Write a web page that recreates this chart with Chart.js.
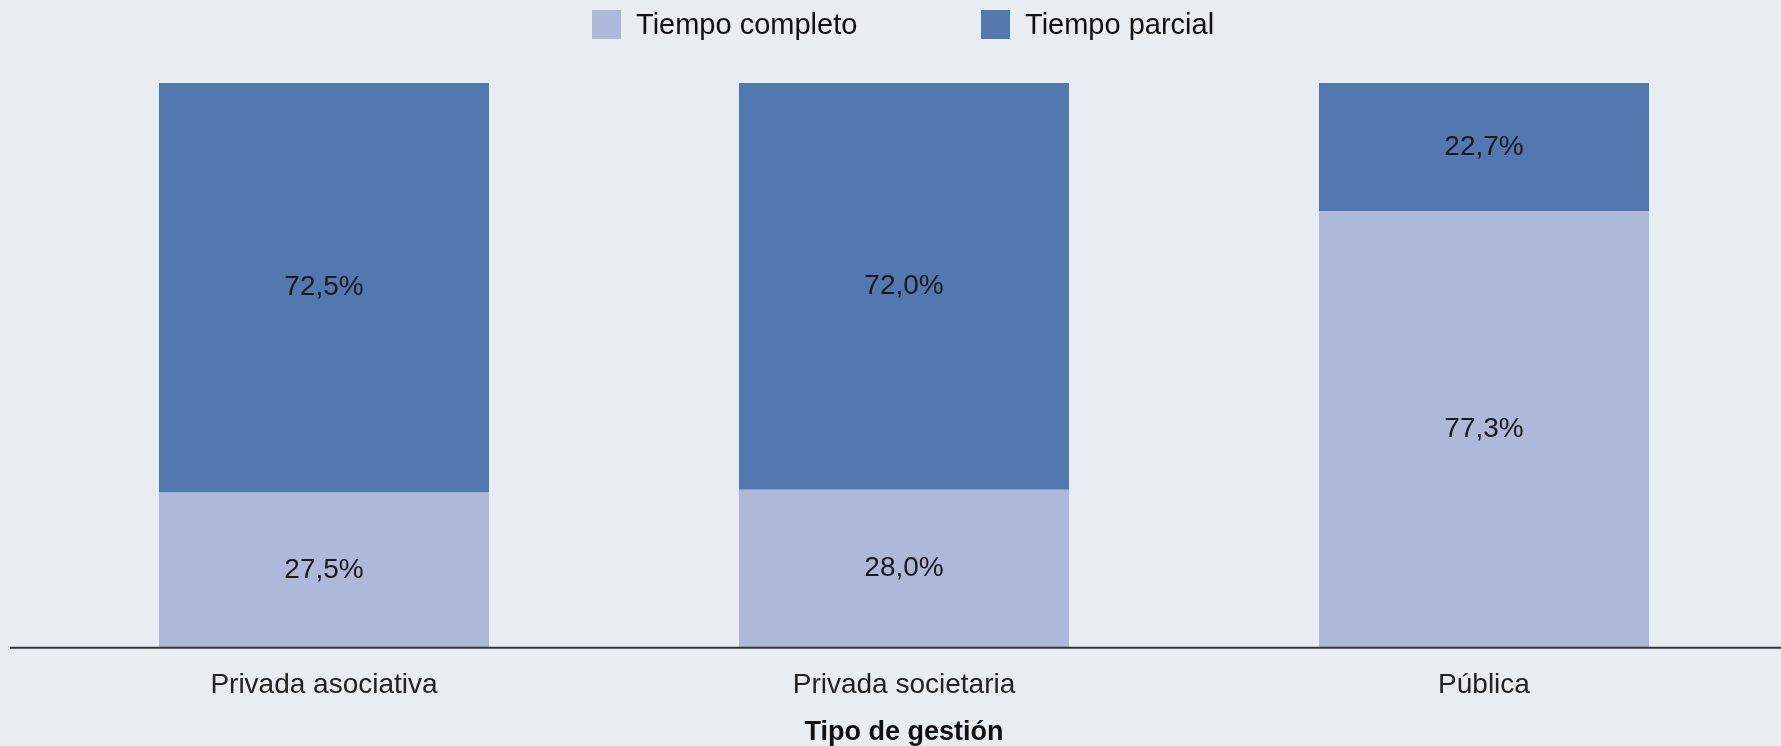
<!DOCTYPE html>
<html>
<head>
<meta charset="utf-8">
<script src="https://cdn.jsdelivr.net/npm/chart.js@4.4.1/dist/chart.umd.min.js"></script>
<style>
  html, body { margin: 0; padding: 0; background: #e8edf2; }
  #wrap { position: relative; width: 1781px; height: 746px; }
  #legend { position: absolute; left: 0; top: 0; width: 1781px; height: 50px;
    font-family: "Liberation Sans", Arial, sans-serif; font-size: 29px; color: #111; }
  .item { position: absolute; top: 10px; display: flex; align-items: center; height: 29px; }
  .box { width: 29px; height: 29px; margin-right: 15px; }
</style>
</head>
<body>
<div id="wrap">
  <canvas id="chart" width="1781" height="746"></canvas>
  <div id="legend"></div>
</div>
<script>
// Data
const categories = ['Privada asociativa', 'Privada societaria', 'Pública'];
const tiempoCompleto = [27.5, 28.0, 77.3];
const tiempoParcial = [72.5, 72.0, 22.7];
const seriesNames = ['Tiempo completo', 'Tiempo parcial'];
const axisTitle = 'Tipo de gestión';

const colors = {
  light: '#aeb9da',
  dark: '#5377af',
  text: '#1a1a1a',
  axis: '#333333'
};
const FONT = '"Liberation Sans", Arial, sans-serif';

// value labels centred in each segment
const segmentLabels = {
  id: 'segmentLabels',
  afterDatasetsDraw(chart) {
    const ctx = chart.ctx;
    ctx.save();
    ctx.font = '28px ' + FONT;
    ctx.fillStyle = colors.text;
    ctx.textAlign = 'center';
    ctx.textBaseline = 'middle';
    chart.data.datasets.forEach((ds, i) => {
      const meta = chart.getDatasetMeta(i);
      meta.data.forEach((bar, j) => {
        const { x, y, base } = bar.getProps(['x', 'y', 'base'], true);
        const txt = ds.data[j].toFixed(1).replace('.', ',') + '%';
        ctx.fillText(txt, x, (y + base) / 2);
      });
    });
    ctx.restore();
  }
};

// baseline that runs past the plot area
const baseLine = {
  id: 'baseLine',
  afterDatasetsDraw(chart) {
    const ctx = chart.ctx;
    const y = chart.scales.y.getPixelForValue(0);
    ctx.save();
    ctx.strokeStyle = colors.axis;
    ctx.lineWidth = 2;
    ctx.beginPath();
    ctx.moveTo(10, y);
    ctx.lineTo(chart.width, y);
    ctx.stroke();
    ctx.restore();
  }
};

const chart = new Chart(document.getElementById('chart'), {
  type: 'bar',
  data: {
    labels: categories,
    datasets: [
      { label: seriesNames[0], data: tiempoCompleto, backgroundColor: colors.light },
      { label: seriesNames[1], data: tiempoParcial, backgroundColor: colors.dark }
    ]
  },
  options: {
    responsive: false,
    animation: false,
    categoryPercentage: 1,
    barPercentage: 0.569,
    layout: { padding: { left: 34, right: 7, top: 83, bottom: 0 } },
    plugins: {
      legend: { display: false },
      tooltip: { enabled: false }
    },
    scales: {
      x: {
        stacked: true,
        grid: { display: false, drawTicks: false },
        border: { display: false },
        ticks: { color: '#222', font: { family: FONT, size: 28 }, padding: 21 },
        title: {
          display: true,
          text: axisTitle,
          color: '#111',
          font: { family: FONT, size: 27, weight: 'bold', lineHeight: 0.65 },
          padding: { top: 0, bottom: 5 }
        }
      },
      y: {
        stacked: true,
        display: false,
        min: 0,
        max: 100
      }
    }
  },
  plugins: [segmentLabels, baseLine]
});

// HTML legend built from the datasets
const legendLeft = [592, 981];
const legend = document.getElementById('legend');
chart.data.datasets.forEach((ds, i) => {
  const item = document.createElement('div');
  item.className = 'item';
  item.style.left = legendLeft[i] + 'px';
  item.innerHTML = '<span class="box" style="background:' + ds.backgroundColor + '"></span><span>' + ds.label + '</span>';
  legend.appendChild(item);
});
</script>
</body>
</html>
